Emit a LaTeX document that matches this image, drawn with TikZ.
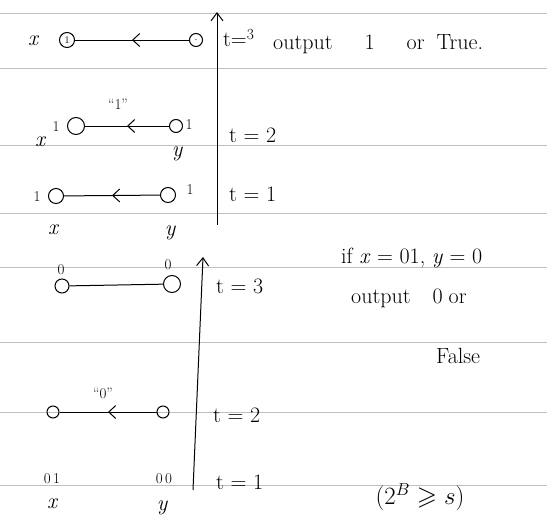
\documentclass[tikz,border=0pt]{standalone}
\usepackage{amssymb}
\usetikzlibrary{arrows.meta,decorations.markings}
\begin{document}
\begin{tikzpicture}[x=1pt,y=-1pt]
\tikzset{
  rule/.style={draw=gray!50, line width=0.6pt},
  vert/.style={circle, draw, line width=1pt, minimum size=15pt, inner sep=0pt, font=\fontsize{10}{11}\selectfont},
  hw/.style={font=\fontsize{22}{24}\selectfont, inner sep=1pt},
  var/.style={font=\fontsize{22}{24}\selectfont\itshape, inner sep=1pt},
  sm/.style={font=\fontsize{15}{17}\selectfont, inner sep=1pt},
  edgeline/.style={line width=1pt},
  midarrow/.style={postaction={decorate}, decoration={markings, mark=at position 0.5 with {\arrow{Straight Barb[length=7pt,width=13pt,line width=1pt]}}}},
  timeaxis/.style={line width=1pt, -{Straight Barb[length=8pt,width=12pt,line width=1pt]}}
}
\useasboundingbox (0,0) rectangle (547,528);
% ruled lines
\foreach \yy in {13,68,145,213,267,342,412,485}
  \draw[rule] (0,\yy) -- (547,\yy);

% ---------- upper part ----------
\coordinate (a1bot) at (217,225);
\coordinate (a1top) at (217,12);
\draw[timeaxis] (a1bot) -- (a1top);

% t=3
\node[var] (lx3) at (33,41) {x};
\node[vert] (X3) at (67,40) {1};
\node[vert, minimum size=13pt] (Y3) at (196,40) {$\cdot$};
\draw[edgeline, midarrow] (Y3) -- (X3);
\node[hw, anchor=west] (t3) at (222,38) {t=\textsuperscript{3}};
\node[hw, anchor=west] (out1) at (272,44) {output\hspace{32pt}1\hspace{32pt}or\hspace{12pt}True.};

% t=2
\node[vert, minimum size=17pt] (X2) at (76,126) {};
\node[vert, minimum size=13pt] (Y2) at (176,126) {};
\node[var] (lx2) at (40,142) {x};
\node[sm] (vx2) at (56,127) {1};
\node[sm] (vy2) at (189,125) {1};
\draw[edgeline, midarrow] (Y2) -- (X2);
\node[sm] (lab1) at (118,104) {\textquotedblleft1\textquotedblright};
\node[hw, anchor=west] (t2) at (228,135) {t = 2};
\node[var] (ly2) at (177,154) {y};

% t=1
\node[sm] (vx1) at (37,197) {1};
\node[vert] (X1) at (56,196) {};
\node[vert] (Y1) at (168,195) {};
\node[sm] (vy1) at (190,190) {1};
\draw[edgeline, midarrow] (Y1) -- (X1);
\node[hw, anchor=west] (t1) at (228,194) {t = 1};
\node[var] (lx1) at (53,230) {x};
\node[var] (ly1) at (170,233) {y};

% ---------- lower part ----------
\coordinate (a2bot) at (193,490);
\coordinate (a2top) at (203,257);
\draw[timeaxis] (a2bot) -- (a2top);

% t=3
\node[vert, minimum size=14pt] (X3b) at (62,286) {};
\node[vert, minimum size=17pt] (Y3b) at (172,284) {};
\draw[edgeline] (X3b) -- (Y3b);
\node[sm] (vx3b) at (61,270) {0};
\node[sm] (vy3b) at (168,265) {0};
\node[hw, anchor=west] (t3b) at (215,286) {t = 3};
\node[hw, anchor=west] (ifx) at (340,258) {if \textit{x} = 01, \textit{y} = 0};
\node[hw, anchor=west] (out0) at (350,298) {output\hspace{22pt}0\hspace{6pt}or};
\node[hw, anchor=west] (false) at (435,356) {False};

% t=2
\node[vert, minimum size=12pt] (X2b) at (53,412) {};
\node[vert, minimum size=12pt] (Y2b) at (163,412) {};
\draw[edgeline, midarrow] (Y2b) -- (X2b);
\node[sm] (lab0) at (103,393) {\textquotedblleft0\textquotedblright};
\node[hw, anchor=west] (t2b) at (212,415) {t = 2};

% t=1
\node[sm] (vx1b) at (52,479) {0\,1};
\node[sm] (vy1b) at (164,479) {0\,0};
\node[hw, anchor=west] (t1b) at (215,482) {t = 1};
\node[var] (lx1b) at (52,504) {x};
\node[var] (ly1b) at (162,508) {y};
\node[font=\fontsize{26}{28}\selectfont] (cond) at (420,497) {$\bigl(2^{B}\geqslant s\bigr)$};
\end{tikzpicture}
\end{document}
